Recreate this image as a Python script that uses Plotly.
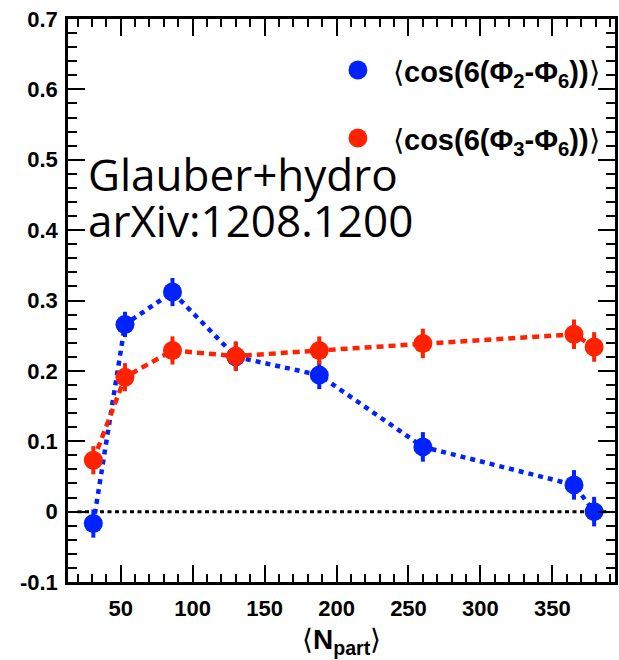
import plotly.graph_objects as go

npart = [31, 53, 86, 130, 188, 260, 365, 379]
cos_26 = [-0.017, 0.266, 0.312, 0.220, 0.194, 0.092, 0.038, 0.000]
cos_36 = [0.073, 0.191, 0.229, 0.221, 0.229, 0.239, 0.252, 0.234]
err_26 = [0.02, 0.018, 0.02, 0.02, 0.02, 0.021, 0.021, 0.021]
err_36 = [0.02, 0.02, 0.02, 0.021, 0.02, 0.021, 0.021, 0.021]

x_ticks = [50, 100, 150, 200, 250, 300, 350]
y_ticks = [-0.1, 0, 0.1, 0.2, 0.3, 0.4, 0.5, 0.6, 0.7]
y_ticktext = ["-0.1", "0", "0.1", "0.2", "0.3", "0.4", "0.5", "0.6", "0.7"]

BLUE = "#0022ff"
RED = "#ff2200"

fig = go.Figure()
for y, e, c, dash in [(cos_26, err_26, BLUE, "5px,5px"), (cos_36, err_36, RED, "7px,5px")]:
    fig.add_trace(go.Scatter(
        x=npart, y=y, mode="lines+markers",
        line=dict(color=c, width=4.5, dash=dash),
        marker=dict(color=c, size=19, line=dict(width=0)),
        error_y=dict(type="data", array=e, color=c, thickness=4, width=0),
        showlegend=False, hoverinfo="skip",
    ))

fig.add_shape(type="line", xref="x", yref="y", x0=20, x1=388, y0=0, y1=0,
              line=dict(color="black", width=3, dash="4px,3.5px"), layer="below")

axfont = dict(family="Liberation Sans", size=22, color="black", weight="bold")
fig.update_layout(
    width=619, height=660,
    margin=dict(l=68, r=1, t=19, b=78),
    paper_bgcolor="white", plot_bgcolor="white",
    xaxis=dict(range=[13.4, 393.5], tickvals=x_ticks, ticks="inside", ticklen=17, tickwidth=1.5,
               tickcolor="black", showline=True, linecolor="black", linewidth=2.5, mirror="ticks",
               showgrid=False, zeroline=False, tickfont=axfont, ticklabelstandoff=5,
               minor=dict(dtick=10, ticks="inside", ticklen=8, tickwidth=1.5, tickcolor="black", showgrid=False)),
    yaxis=dict(range=[-0.1, 0.7], tickvals=y_ticks, ticktext=y_ticktext, ticks="inside", ticklen=17,
               tickwidth=1.5, tickcolor="black", showline=True, linecolor="black", linewidth=2.5,
               mirror="ticks", showgrid=False, zeroline=False, tickfont=axfont, ticklabelstandoff=3,
               minor=dict(dtick=0.02, ticks="inside", ticklen=9, tickwidth=1.5, tickcolor="black", showgrid=False)),
)

def px_x(p):
    return (p - 68) / 550.0

def px_y(p):
    return (582 - p) / 563.0

# legend dots
for cy, c in [(70, BLUE), (138, RED)]:
    fig.add_shape(type="circle", xref="paper", yref="paper",
                  x0=px_x(350), x1=px_x(369), y0=px_y(cy + 9.5), y1=px_y(cy - 9.5),
                  fillcolor=c, line=dict(width=0))

legfont = dict(family="Liberation Sans", size=29, color="black")
fig.add_annotation(xref="paper", yref="paper", x=px_x(393), y=px_y(74), xanchor="left", yanchor="middle",
                   text="⟨<b>cos(6(Φ<sub>2</sub>-Φ<sub>6</sub>))</b>⟩", showarrow=False, font=legfont)
fig.add_annotation(xref="paper", yref="paper", x=px_x(393), y=px_y(142), xanchor="left", yanchor="middle",
                   text="⟨<b>cos(6(Φ<sub>3</sub>-Φ<sub>6</sub>))</b>⟩", showarrow=False, font=legfont)

txtfont = dict(family="Open Sans", size=44, color="black")
fig.add_annotation(xref="paper", yref="paper", x=px_x(86), y=px_y(192), xanchor="left", yanchor="bottom",
                   text="Glauber+hydro", showarrow=False, font=txtfont, yshift=-14)
fig.add_annotation(xref="paper", yref="paper", x=px_x(86), y=px_y(238), xanchor="left", yanchor="bottom",
                   text="arXiv:1208.1200", showarrow=False, font=txtfont, yshift=-14)

# x-axis title
fig.add_annotation(xref="paper", yref="paper", x=px_x(343), y=px_y(622), xanchor="center", yanchor="top",
                   text="⟨<b>N<sub>part</sub></b>⟩", showarrow=False,
                   font=dict(family="Liberation Sans", size=28, color="black"))

# cropped title fragment at the very top
fig.add_annotation(xref="paper", yref="paper", x=px_x(110), y=px_y(3), xanchor="center", yanchor="bottom",
                   text="<b>400</b>", showarrow=False, yshift=-4,
                   font=dict(family="Liberation Sans", size=23, color="black"))

fig.write_html("out.html")
